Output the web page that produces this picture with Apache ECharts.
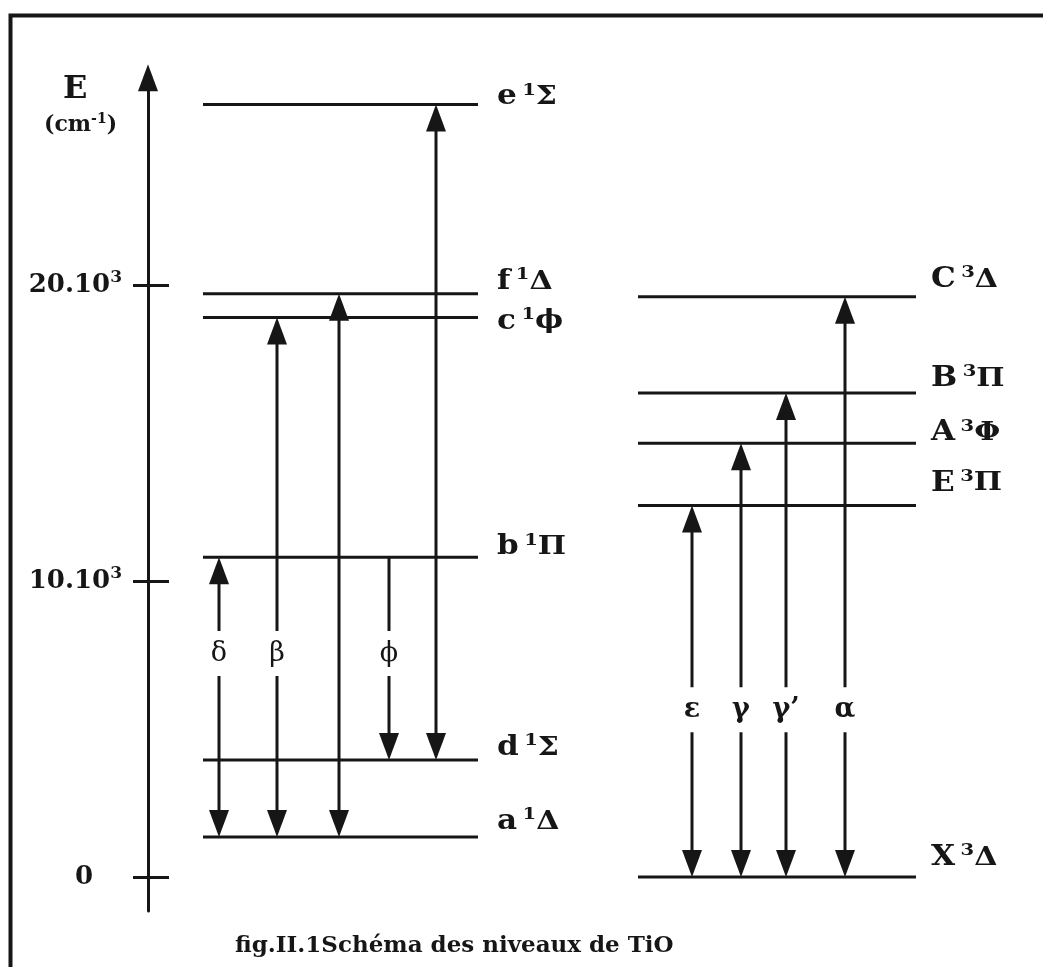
<!DOCTYPE html>
<html>
<head>
<meta charset="utf-8">
<script src="https://cdn.jsdelivr.net/npm/echarts@6/dist/echarts.min.js"></script>
<style>
  html, body { margin: 0; padding: 0; background: #fff; }
  #chart { width: 1043px; height: 967px; }
</style>
</head>
<body>
<div id="chart"></div>
<script>
// ---- TiO electronic term energies (cm-1) ----
const singletNames  = ['e', 'f', 'c', 'b', 'd', 'a'];
const singletTerms  = ['Σ', 'Δ', '\u03D5', 'Π', 'Σ', 'Δ'];
const singletEnergy = [26100, 19700, 18900, 10800, 3950, 1350];

const tripletNames  = ['C', 'B', 'A', 'E', 'X'];
const tripletTerms  = ['Δ', 'Π', 'Φ', 'Π', 'Δ'];
const tripletEnergy = [19600, 16350, 14650, 12550, 0];

// band systems: label, lower state, upper state, which ends carry a head
const bandLabels = ['δ', 'β', '', '\u03D5', '', 'ε', 'γ', 'γ\u2019', 'α'];
const bandLower  = ['a', 'a', 'a', 'd', 'd', 'X', 'X', 'X', 'X'];
const bandUpper  = ['b', 'c', 'f', 'b', 'e', 'E', 'A', 'B', 'C'];
const bandHeads  = ['both', 'both', 'both', 'down', 'both', 'both', 'both', 'both', 'both'];

// energy axis ticks
const tickValues   = [0, 10000, 20000];
const tickMantissa = ['0', '10.10', '20.10'];
const tickExponent = ['', '3', '3'];

// ---- layout (horizontal placement of the two columns) ----
const columnSpan   = { singlet: [203, 478], triplet: [638, 916] };
const labelColumnX = { singlet: 497, triplet: 931 };
const singletLabelDy = [-7, -12, 4, -10, -12, -15];
const tripletLabelDy = [-17, -14, -10, -22, -19];
const bandX = [219, 277, 339, 389, 436, 692, 741, 786, 845];
const bandLabelEnergy = { singlet: 7550, triplet: 5650 };

const FONT = 'DejaVu Serif';
const INK = '#161616';

// assemble level table
const levels = [];
singletNames.forEach((n, i) => levels.push({
  name: n, mult: '1', term: singletTerms[i], e: singletEnergy[i],
  col: 'singlet', dy: singletLabelDy[i]
}));
tripletNames.forEach((n, i) => levels.push({
  name: n, mult: '3', term: tripletTerms[i], e: tripletEnergy[i],
  col: 'triplet', dy: tripletLabelDy[i]
}));
const energyOf = {};
levels.forEach(l => { energyOf[l.name] = l.e; });

const levelData = levels.map((l, i) => [columnSpan[l.col][0], columnSpan[l.col][1], l.e, i]);

const bandData = bandLabels.map((lab, i) => {
  const col = i < 5 ? 'singlet' : 'triplet';
  return [bandX[i], energyOf[bandLower[i]], energyOf[bandUpper[i]], bandLabelEnergy[col], i];
});

const levelRich = {
  m: { fontFamily: FONT, fontWeight: 'bold', fontSize: 27 },
  sp: { fontFamily: FONT, fontSize: 15 },
  s: { fontFamily: FONT, fontWeight: 'bold', fontSize: 17, padding: [0, 0, 14, 0] },
  g: { fontFamily: FONT, fontWeight: 'bold', fontSize: 26 }
};

function renderLevel(params, api) {
  const lv = levels[api.value(3)];
  const a = api.coord([api.value(0), api.value(2)]);
  const b = api.coord([api.value(1), api.value(2)]);
  const lx = api.coord([labelColumnX[lv.col], api.value(2)])[0];
  return {
    type: 'group',
    children: [
      { type: 'line', shape: { x1: a[0], y1: a[1], x2: b[0], y2: b[1] },
        style: { stroke: INK, lineWidth: 3 } },
      { type: 'text', x: lx, y: a[1] + lv.dy, scaleX: 1.15,
        style: {
          text: '{m|' + lv.name + '}{sp| }{s|' + lv.mult + '}{g|' + lv.term + '}',
          rich: levelRich, fill: INK, align: 'left', verticalAlign: 'middle'
        } }
    ]
  };
}

function renderBand(params, api) {
  const i = api.value(4);
  const x = api.value(0);
  const lo = api.coord([x, api.value(1)]);
  const hi = api.coord([x, api.value(2)]);
  const heads = bandHeads[i];
  const up = heads === 'both' || heads === 'up';
  const down = heads === 'both' || heads === 'down';
  const HL = 27, HW = 10;
  const children = [
    { type: 'line',
      shape: { x1: lo[0], y1: lo[1] - (down ? HL - 4 : 0), x2: hi[0], y2: hi[1] + (up ? HL - 4 : 0) },
      style: { stroke: INK, lineWidth: 3 } }
  ];
  if (up) children.push({ type: 'polygon',
    shape: { points: [[hi[0], hi[1]], [hi[0] - HW, hi[1] + HL], [hi[0] + HW, hi[1] + HL]] },
    style: { fill: INK } });
  if (down) children.push({ type: 'polygon',
    shape: { points: [[lo[0], lo[1]], [lo[0] - HW, lo[1] - HL], [lo[0] + HW, lo[1] - HL]] },
    style: { fill: INK } });
  const lab = bandLabels[i];
  if (lab) {
    const p = api.coord([x, api.value(3)]);
    children.push({ type: 'text', x: p[0], y: p[1],
      style: {
        text: lab, fill: INK, fontFamily: FONT, fontSize: 27,
        fontWeight: i < 5 ? 'normal' : 'bold',
        align: 'center', verticalAlign: 'middle',
        backgroundColor: '#fff', padding: [9, 4, 9, 4]
      } });
  }
  return { type: 'group', children: children };
}

const chart = echarts.init(document.getElementById('chart'));

chart.setOption({
  backgroundColor: '#fff',
  animation: false,
  title: {
    text: 'fig.II.1Schéma des niveaux de TiO',
    left: 230, top: 930,
    textStyle: { fontFamily: FONT, fontWeight: 'bold', fontSize: 23, color: INK }
  },
  grid: { left: 148, right: 43, top: 77.8, bottom: 56 },
  xAxis: { type: 'value', min: 148, max: 1000, show: false },
  yAxis: [
    {
      type: 'value', min: -1150, max: 27000, position: 'left',
      splitLine: { show: false },
      axisLine: {
        show: true, symbol: ['none', 'triangle'], symbolSize: [20, 27],
        lineStyle: { color: INK, width: 3 }
      },
      axisTick: { show: true, customValues: tickValues, length: 15, inside: false,
        lineStyle: { color: INK, width: 3 } },
      axisLabel: {
        customValues: tickValues, margin: 26,
        formatter: function (v) {
          const k = tickValues.indexOf(v);
          if (k < 0) return '';
          if (!tickExponent[k]) return '{z|' + tickMantissa[k] + '}';
          return '{n|' + tickMantissa[k] + '}{s|' + tickExponent[k] + '}';
        },
        rich: {
          n: { fontFamily: FONT, fontWeight: 'bold', fontSize: 26, color: INK },
          z: { fontFamily: FONT, fontWeight: 'bold', fontSize: 26, color: INK, padding: [0, 29, 0, 0] },
          s: { fontFamily: FONT, fontWeight: 'bold', fontSize: 17, color: INK, padding: [0, 0, 14, 0] }
        }
      }
    },
    {
      type: 'value', min: -1150, max: 27000, position: 'left', offset: 0,
      splitLine: { show: false },
      axisLine: { show: false },
      axisLabel: { show: false },
      axisTick: { show: true, customValues: tickValues, length: 21, inside: true,
        lineStyle: { color: INK, width: 3 } }
    }
  ],
  graphic: [
    { type: 'polyline', z: 10,
      shape: { points: [[10.5, 967], [10.5, 15.5], [1043, 15.5]] },
      style: { stroke: INK, lineWidth: 4, fill: null } },
    { type: 'text', left: 63, top: 74,
      style: { text: 'E', fill: INK, fontFamily: FONT, fontWeight: 'bold', fontSize: 32 } },
    { type: 'text', left: 44, top: 112,
      style: {
        text: '{u|(cm}{s|-1}{u|)}', fill: INK,
        rich: {
          u: { fontFamily: FONT, fontWeight: 'bold', fontSize: 22 },
          s: { fontFamily: FONT, fontWeight: 'bold', fontSize: 14, padding: [0, 0, 12, 0] }
        }
      } }
  ],
  series: [
    {
      type: 'custom', name: 'levels', coordinateSystem: 'cartesian2d',
      renderItem: renderLevel, data: levelData,
      encode: { x: [0, 1], y: 2 }, silent: true
    },
    {
      type: 'custom', name: 'bands', coordinateSystem: 'cartesian2d',
      renderItem: renderBand, data: bandData,
      encode: { x: 0, y: [1, 2] }, silent: true, z: 3
    }
  ]
});
</script>
</body>
</html>
